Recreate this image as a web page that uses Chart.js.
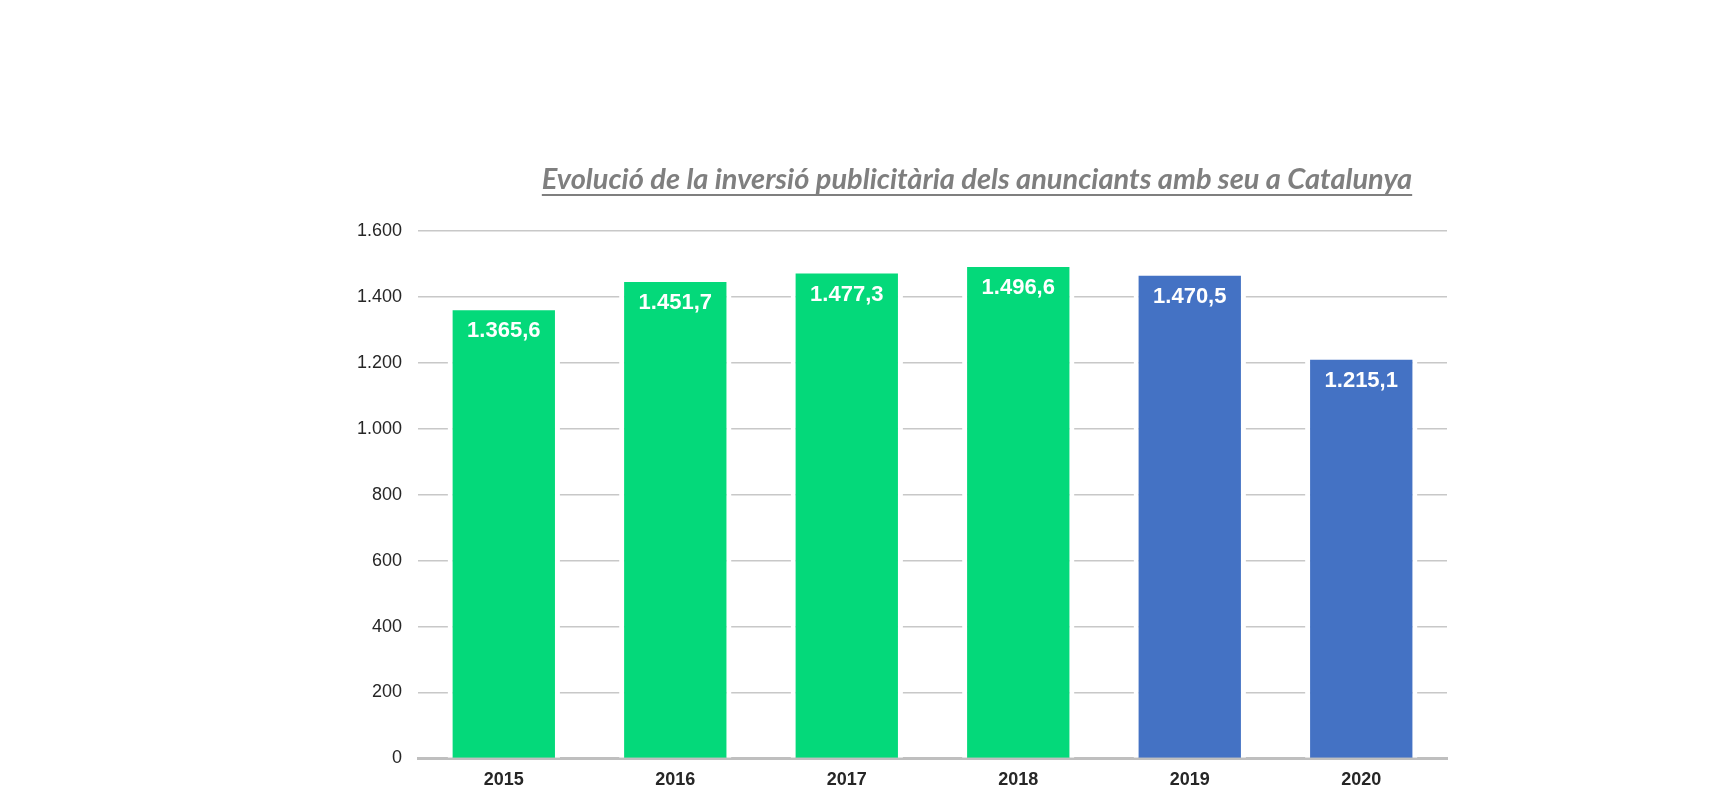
<!DOCTYPE html>
<html>
<head>
<meta charset="utf-8">
<script src="https://cdn.jsdelivr.net/npm/chart.js@4"></script>
<style>
  html, body { margin: 0; padding: 0; background: #fff; }
  #wrap { position: relative; width: 1712px; height: 806px; }
  #title {
    position: absolute; left: 0; width: 1712px; top: 160px;
    text-align: center; padding-left: 242px; box-sizing: border-box;
    font-family: Lato, sans-serif; font-weight: bold; font-style: italic;
    font-size: 29px; color: #7f7f7f; text-decoration: underline;
    text-underline-offset: 5px; text-decoration-thickness: 2px;
  }
  canvas { position: absolute; left: 0; top: 0; }
</style>
</head>
<body>
<div id="wrap">
  <canvas id="chart" width="1712" height="806"></canvas>
  <div id="title">Evolució de la inversió publicitària dels anunciants amb seu a Catalunya</div>
</div>
<script>
const years = ['2015', '2016', '2017', '2018', '2019', '2020'];
const investment = [1365.6, 1451.7, 1477.3, 1496.6, 1470.5, 1215.1];
const barColors = ['#04d97a', '#04d97a', '#04d97a', '#04d97a', '#4472c4', '#4472c4'];

function fmt(v, dec) {
  return v.toLocaleString('de-DE', { minimumFractionDigits: dec, maximumFractionDigits: dec });
}

// value labels inside the top of each bar
const valueLabels = {
  id: 'valueLabels',
  afterDatasetsDraw(chart) {
    const ctx = chart.ctx;
    const meta = chart.getDatasetMeta(0);
    ctx.save();
    ctx.fillStyle = '#ffffff';
    ctx.font = 'bold 22px "Liberation Sans", Arial, sans-serif';
    ctx.textAlign = 'center';
    ctx.textBaseline = 'middle';
    meta.data.forEach((bar, i) => {
      ctx.fillText(fmt(investment[i], 1), bar.x, bar.y + 23);
    });
    ctx.restore();
  }
};

new Chart(document.getElementById('chart'), {
  type: 'bar',
  data: {
    labels: years,
    datasets: [{
      data: investment,
      backgroundColor: barColors,
      borderColor: '#ffffff',
      borderWidth: { top: 2, left: 5, right: 5, bottom: 0 },
      borderSkipped: false,
      categoryPercentage: 1,
      barPercentage: 0.655
    }]
  },
  options: {
    responsive: false,
    animation: false,
    layout: { padding: { left: 341, right: 265, top: 231, bottom: 12 } },
    plugins: { legend: { display: false }, tooltip: { enabled: false } },
    scales: {
      x: {
        grid: { display: false },
        border: { display: true, color: '#bfbfbf', width: 3 },
        ticks: { color: '#262626', padding: 3, font: { family: '"Liberation Sans", Arial, sans-serif', size: 18, weight: 'bold' } }
      },
      y: {
        min: 0, max: 1600,
        grid: { color: '#c8c8c8', lineWidth: 1.5, drawTicks: false },
        border: { display: false },
        ticks: {
          stepSize: 200, padding: 16, color: '#262626',
          font: { family: '"Liberation Sans", Arial, sans-serif', size: 18 },
          callback: v => fmt(v, 0)
        }
      }
    }
  },
  plugins: [valueLabels]
});
</script>
</body>
</html>
